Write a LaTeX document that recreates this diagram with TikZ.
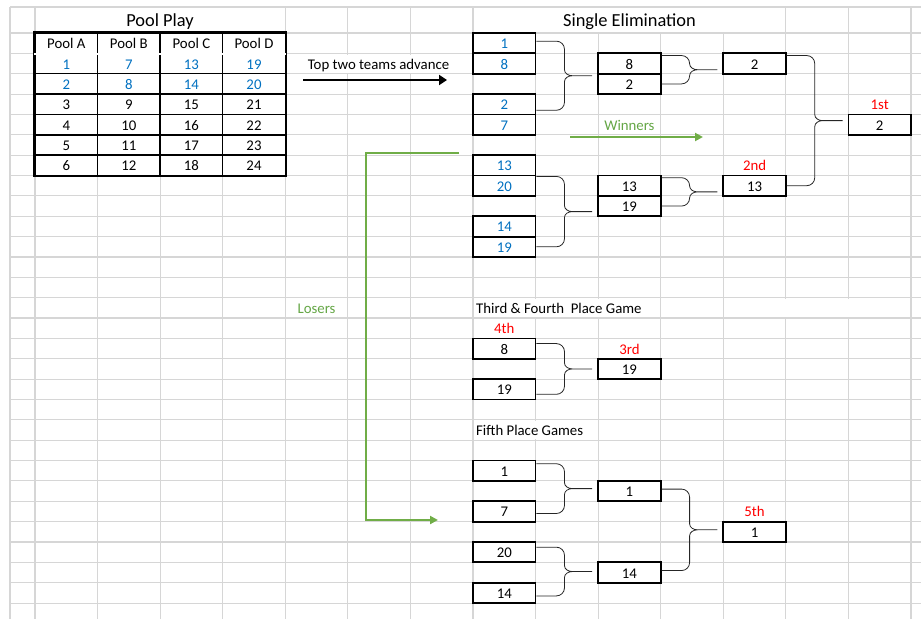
\documentclass[tikz,border=0pt]{standalone}
\usepackage{fontspec}
\setmainfont{Carlito}
\usetikzlibrary{arrows.meta,calc}

% right brace from two boxes, tip line to the next box
\newcommand{\bracket}[3]{%
  \draw[bracketline] let \p1=(#1), \p2=(#2), \p3=(#3), \p4=($(\p1)!0.5!(\p2)$) in
    (\p1) -- (\x1+20pt,\y1) to[out=0,in=90] (\x1+28pt,\y1-8pt)
    -- (\x1+28pt,\y4+6pt) to[out=-90,in=180] (\x1+36pt,\y4) -- (\x3-5pt,\y4)
    (\x1+36pt,\y4) to[out=180,in=90] (\x1+28pt,\y4-6pt)
    -- (\x1+28pt,\y2+8pt) to[out=-90,in=0] (\x1+20pt,\y2) -- (\p2);}

\begin{document}
\begin{tikzpicture}[x=1pt,y=-1pt,
  gridline/.style={draw=gridgray,line width=1.1pt},
  cover/.style={fill=white},
  cellfont/.style={font=\fontsize{14.8}{17}\selectfont,text height=11pt,text depth=0pt},
  titlefont/.style={font=\fontsize{18.4}{21}\selectfont,text height=13pt,text depth=0pt},
  teambox/.style={cellfont,draw,line width=1.8pt,minimum width=62.57pt,minimum height=20.36pt,inner sep=0pt},
  poolcell/.style={teambox,line width=1.4pt},
  place/.style={cellfont,text=red},
  bracketline/.style={draw=black!85,line width=0.8pt},
  advarrow/.style={-{Triangle[length=8pt,width=10pt]},line width=2.6pt},
  greenarrow/.style={-{Triangle[length=8pt,width=8pt]},draw=leafgreen,line width=2.6pt},
  declare function={colx(\i)=35+62.57*(\i+0.5); rowy(\r)=33+20.36*(\r-0.5);}]
\definecolor{teamblue}{HTML}{0070C0}
\definecolor{leafgreen}{HTML}{70AD47}
\definecolor{labelgreen}{HTML}{64A645}
\definecolor{gridgray}{HTML}{D6D6D6}
\useasboundingbox (0,0) rectangle (921,619);

% sheet grid
\draw[gridline] (10,7) -- (921,7);
\foreach \i in {0,...,28} \draw[gridline] (10,{33+20.36*\i}) -- (921,{33+20.36*\i});
\foreach \i in {0,...,14} \draw[gridline] ({35+62.57*\i},7) -- ({35+62.57*\i},619);
\draw[gridline] (10,7) -- (10,619);
% merged cells and overflowing text
\fill[cover] (36,8) rectangle (284,32);
\fill[cover] (474,8) rectangle (785,32);
\fill[cover] (287,54.5) rectangle (471,72.6);
\fill[cover] (474,298.8) rectangle (660,317);
\fill[cover] (724,298.8) rectangle (910,317);
\fill[cover] (474,421) rectangle (597,439.1);

% pool play
\node[titlefont] (pooltitle) at (160,20) {Pool Play};
\foreach \pool/\col in {A/0,B/1,C/2,D/3}{
  \node[poolcell] (pool\pool) at ({colx(\col)},{rowy(1)}) {Pool \pool};
  \foreach \k/\crlr in {1/teamblue,2/teamblue,3/black,4/black,5/black,6/black}{
    \pgfmathtruncatemacro{\team}{6*\col+\k}
    \node[poolcell,text=\crlr] (pool\pool\k) at ({colx(\col)},{rowy(\k+1)}) {\team};}
}
\draw[line width=2.2pt] (poolA.north west) rectangle (poolD6.south east);
\draw[line width=0.7pt,double,double distance=1.2pt] (poolA.south west) -- (poolD.south east);

\node[cellfont] (advtext) at (378.5,{rowy(2)}) {Top two teams advance};
\coordinate (advfrom) at (303,80);
\coordinate (advto) at (447,80);
\draw[advarrow] (advfrom) -- (advto);

% single elimination
\node[titlefont] (elimtitle) at (629.5,20) {Single Elimination};
\foreach \num/\row in {1/1,8/2,2/4,7/5,13/7,20/8,14/10,19/11}
  \node[teambox,text=teamblue] (se\num) at ({colx(7)},{rowy(\row)}) {\num};
\foreach \num/\row in {8/2,2/3,13/8,19/9}
  \node[teambox] (sf\num) at ({colx(9)},{rowy(\row)}) {\num};
\node[teambox] (fin2) at ({colx(11)},{rowy(2)}) {2};
\node[teambox] (fin13) at ({colx(11)},{rowy(8)}) {13};
\node[teambox] (champ) at ({colx(13)},{rowy(5)}) {2};
\node[place] (first) at ({colx(13)},{rowy(4)}) {1st};
\node[place] (second) at ({colx(11)},{rowy(7)}) {2nd};

\bracket{[yshift=2pt]se1.east}{[yshift=-6pt]se2.east}{sf2.west}
\bracket{se13.south east}{se19.east}{sf19.west}
\bracket{[yshift=8pt]sf8.east}{sf2.east}{fin2.west}
\bracket{[yshift=8pt]sf13.east}{sf19.east}{fin13.west}
\bracket{[yshift=8pt]fin2.east}{fin13.east}{champ.west}

\node[cellfont,text=labelgreen] (winlbl) at ({colx(9)},{rowy(5)}) {Winners};
\coordinate (winfrom) at (570,137);
\coordinate (winto) at (703,137);
\draw[greenarrow] (winfrom) -- (winto);

\node[cellfont,text=labelgreen] (loselbl) at ({colx(4)},{rowy(14)}) {Losers};
\coordinate (losefrom) at (459,153);
\coordinate (losebend) at (366,153);
\coordinate (loseto) at (438,520);
\draw[greenarrow] (losefrom) -- (losebend) |- (loseto);

% third and fourth
\node[cellfont,anchor=west,inner sep=3pt] (thirdtitle) at (473,{rowy(14)}) {Third \& Fourth\ \ Place Game};
\node[place] (fourthlbl) at ({colx(7)},{rowy(15)}) {4th};
\node[teambox] (tf8) at ({colx(7)},{rowy(16)}) {8};
\node[teambox] (tf19) at ({colx(7)},{rowy(18)}) {19};
\node[place] (thirdlbl) at ({colx(9)},{rowy(16)}) {3rd};
\node[teambox] (third) at ({colx(9)},{rowy(17)}) {19};
\bracket{[yshift=5pt]tf8.east}{[yshift=-5pt]tf19.east}{third.west}

% fifth place
\node[cellfont,anchor=west,inner sep=3pt] (fifthtitle) at (473,{rowy(20)}) {Fifth Place Games};
\foreach \num/\row in {1/22,7/24,20/26,14/28}
  \node[teambox] (ff\num) at ({colx(7)},{rowy(\row)}) {\num};
\node[teambox] (fs1) at ({colx(9)},{rowy(23)}) {1};
\node[teambox] (fs14) at ({colx(9)},{rowy(27)}) {14};
\node[place] (fifthlbl) at ({colx(11)},{rowy(24)}) {5th};
\node[teambox] (fifth) at ({colx(11)},{rowy(25)}) {1};
\bracket{[yshift=7pt]ff1.east}{[yshift=-2pt]ff7.east}{fs1.west}
\bracket{[yshift=5pt]ff20.east}{[yshift=-3pt]ff14.east}{fs14.west}
\bracket{[yshift=2pt]fs1.east}{[yshift=2pt]fs14.east}{fifth.west}
\end{tikzpicture}
\end{document}
